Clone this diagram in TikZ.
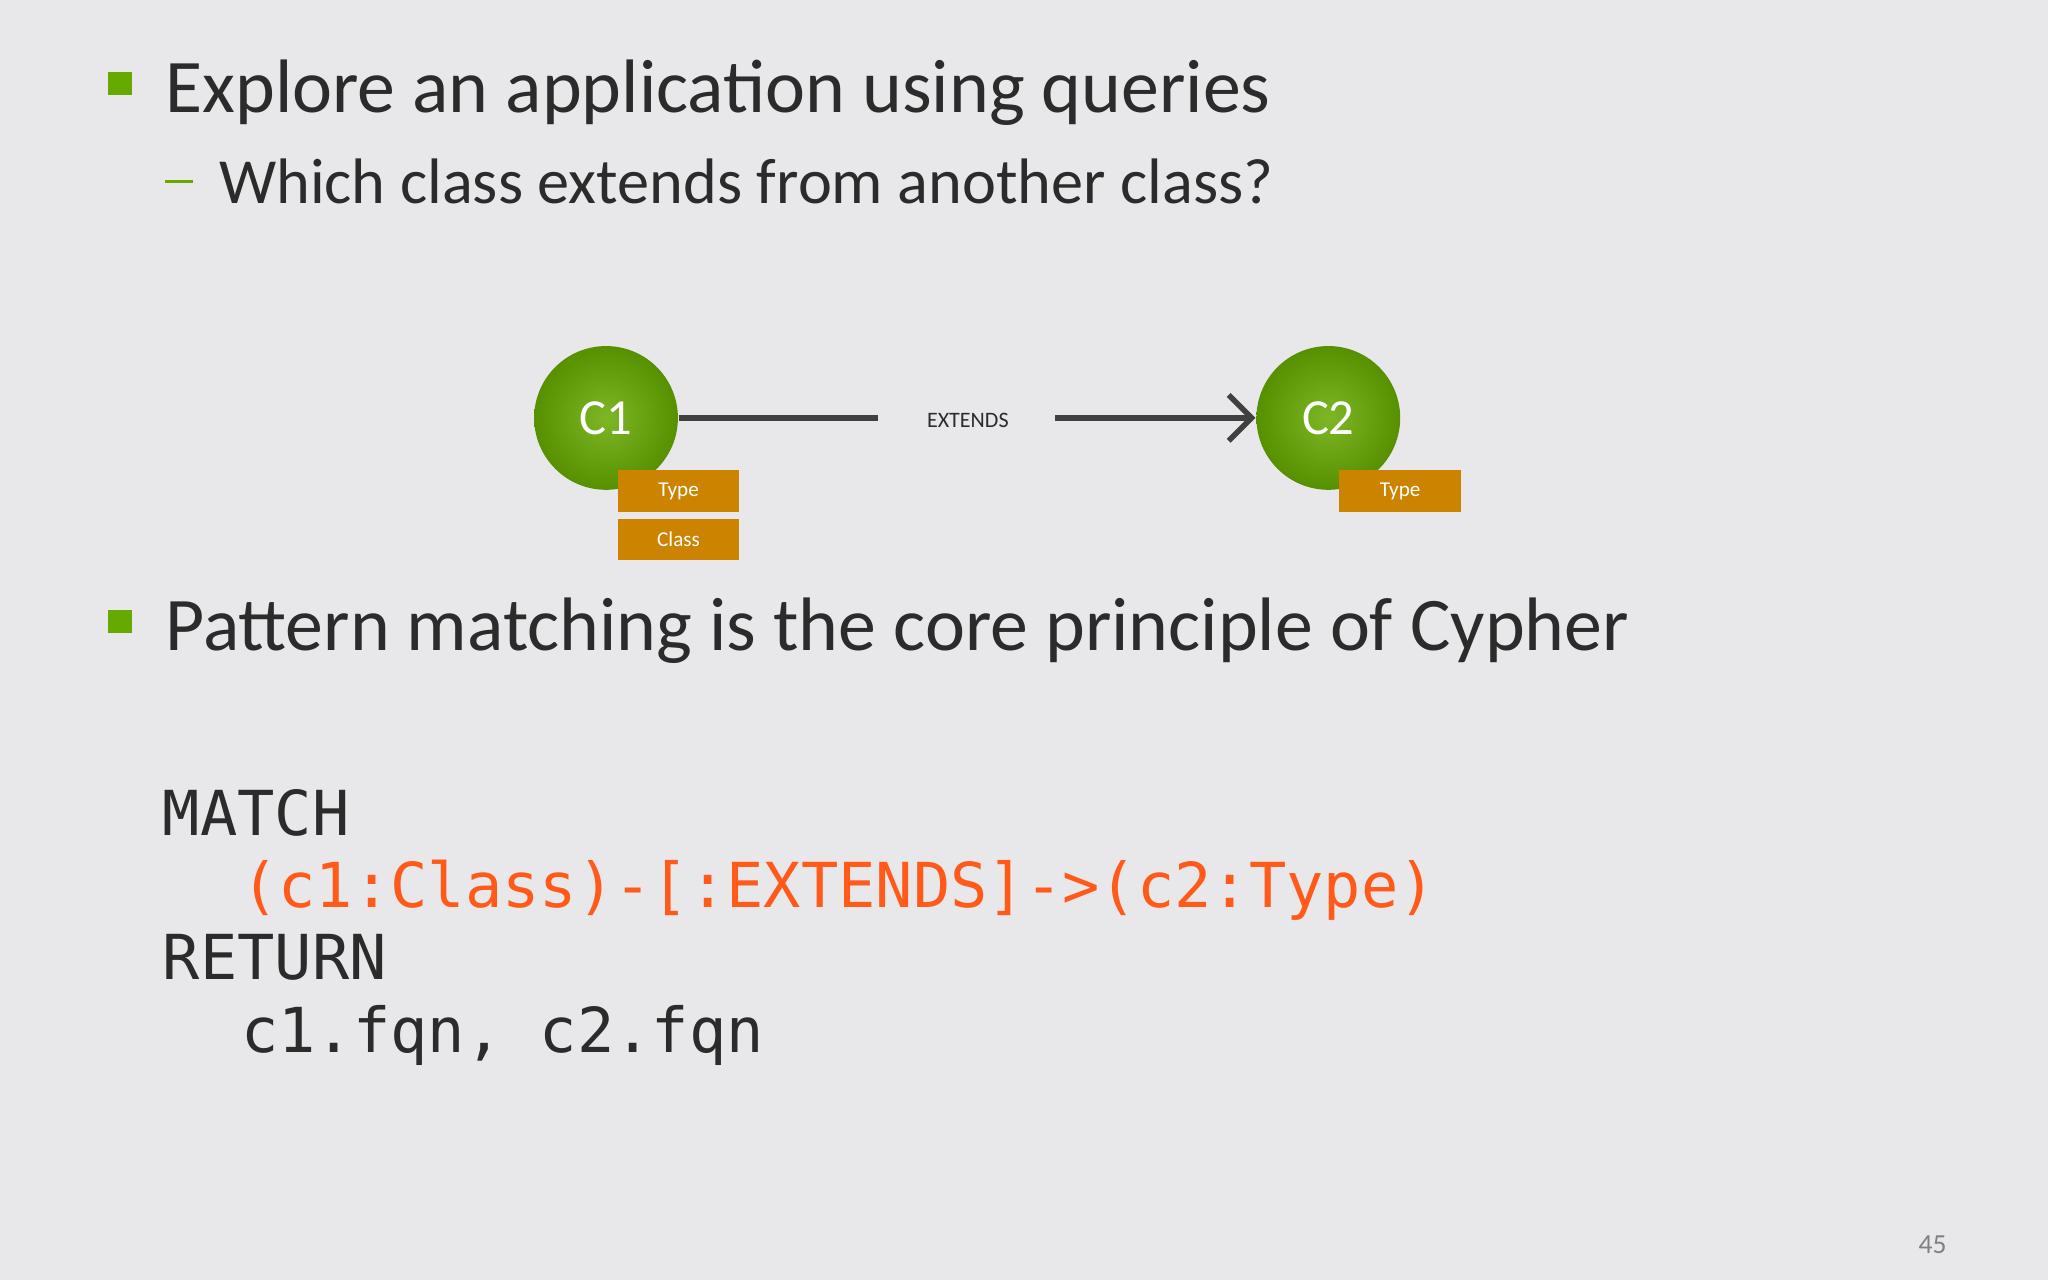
\documentclass[tikz,border=0pt]{standalone}
\usepackage{fontspec}
\setmainfont{Carlito}
\setmonofont{DejaVu Sans Mono}
\usetikzlibrary{arrows.meta}
\definecolor{bg}{HTML}{E8E8EA}
\definecolor{grn}{HTML}{66AA00}
\definecolor{lbl}{HTML}{CC8400}
\definecolor{txt}{HTML}{2B2B2B}
\definecolor{org}{HTML}{FF5A1A}
\tikzset{
 gnode/.style={circle,minimum size=1.1cm,inner sep=0pt,shading=radial,inner color=grn!85!white,outer color=grn!85!black,text=white,font=\fontsize{11}{13}\selectfont},
 tagbox/.style={fill=lbl,minimum width=0.93cm,minimum height=0.32cm,inner sep=0pt,text=white,font=\fontsize{4.6}{5}\selectfont},
 bul/.style={fill=grn,minimum size=0.18cm,inner sep=0pt},
 big/.style={anchor=base west,text=txt,inner sep=0pt,font=\fontsize{16.5}{19}\selectfont},
 mid/.style={anchor=base west,text=txt,inner sep=0pt,font=\fontsize{14}{16}\selectfont},
 code/.style={anchor=base west,inner sep=0pt,font=\ttfamily\fontsize{13.5}{16}\selectfont},
}
\begin{document}
\begin{tikzpicture}[x=0.01cm,y=-0.01cm]
\fill[bg] (0,0) rectangle (1568,980);
\useasboundingbox (0,0) rectangle (1568,980);
\node[bul] (b1) at (92,64) {};
\node[big] (t1) at (126,86) {Explore an application using queries};
\node[inner sep=0pt] (d1) at (137,139) {\color{grn}\rule{0.22cm}{0.025cm}};
\node[mid] (t2) at (167,156) {Which class extends from another class?};
\node[gnode] (c1) at (464,320) {C1};
\node[gnode] (c2) at (1017,320) {C2};
\node[tagbox] (ty1) at (519.5,376) {Type};
\node[tagbox] (cl1) at (519.5,413) {Class};
\node[tagbox] (ty2) at (1072,376) {Type};
\node[text=txt,font=\fontsize{4.8}{6}\selectfont,inner sep=0pt] (ext) at (741,322) {EXTENDS};
\coordinate (l1) at (672,320);
\coordinate (l2) at (808,320);
\draw[txt!90,line width=1.2pt] (c1) -- (l1);
\draw[txt!90,line width=1.2pt,-{Straight Barb[length=5pt,width=10pt]}] (l2) -- (c2);
\node[bul] (b2) at (92,476) {};
\node[big] (t3) at (126,498) {Pattern matching is the core principle of Cypher};
\node[code,text=txt] (m1) at (124,640) {MATCH};
\node[code,text=org] (m2) at (184,695) {(c1:Class)-[:EXTENDS]->(c2:Type)};
\node[code,text=txt] (m3) at (124,750) {RETURN};
\node[code,text=txt] (m4) at (184,806) {c1.fqn, c2.fqn};
\node[anchor=base east,text=gray,inner sep=0pt,font=\fontsize{6}{7}\selectfont] (pn) at (1491,960) {45};
\end{tikzpicture}
\end{document}
